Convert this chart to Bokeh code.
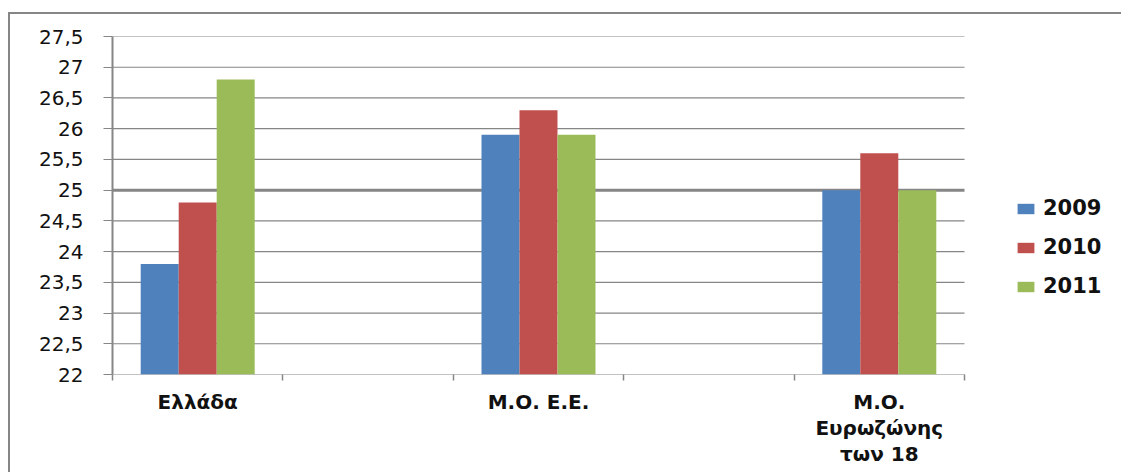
from bokeh.plotting import figure
from bokeh.models import FixedTicker, Legend, LegendItem, ColumnDataSource
from bokeh.embed import file_html
from bokeh.resources import INLINE

# Categories (with empty spacer slots between the groups)
categories = ["Ελλάδα", "", "Μ.Ο. Ε.Ε.", "", "Μ.Ο.\nΕυρωζώνης\nτων 18"]
years = ["2009", "2010", "2011"]
values_2009 = [23.8, None, 25.9, None, 25.0]
values_2010 = [24.8, None, 26.3, None, 25.6]
values_2011 = [26.8, None, 25.9, None, 25.0]
y_ticks = [22, 22.5, 23, 23.5, 24, 24.5, 25, 25.5, 26, 26.5, 27, 27.5]

colors = ["#4F81BD", "#C0504D", "#9BBB59"]
grid_gray = "#868686"
font = "DejaVu Sans"

# the frame runs to the right edge so the legend can sit beside the bars;
# the category slots occupy the first 852 px of its 1011 px
n = len(categories)
plot_px, frame_px = 852, 1011
x_end = n * frame_px / plot_px

p = figure(width=1113, height=460, output_backend="svg", toolbar_location=None,
           x_range=(0, x_end), y_range=(22, 27.5),
           min_border_left=102, min_border_right=0,
           min_border_top=22, min_border_bottom=100)
p.outline_line_color = None
p.background_fill_color = "white"
p.border_fill_color = "white"
# outer chart box (its right and bottom edges fall outside the page)
p.styles = {"margin-left": "8px", "margin-top": "12px",
            "border-left": f"2px solid {grid_gray}",
            "border-top": f"2px solid {grid_gray}"}

# horizontal gridlines across the category slots only; the 25 line is heavier
grid_widths = [3 if t == 25 else 1.2 for t in y_ticks]
p.segment(x0=0, x1=n, y0=y_ticks, y1=y_ticks, line_color=grid_gray,
          line_width=grid_widths, level="underlay")

bar_w = 0.223
series = [values_2009, values_2010, values_2011]
renderers = []
for k, (vals, col) in enumerate(zip(series, colors)):
    xs, tops = [], []
    for i, v in enumerate(vals):
        if v is not None:
            xs.append(i + 0.5 + (k - 1) * bar_w)
            tops.append(v)
    src = ColumnDataSource(dict(x=xs, top=tops))
    r = p.vbar(x="x", top="top", bottom=22, width=bar_w, source=src,
               fill_color=col, line_color=None)
    renderers.append(r)

# y axis
p.yaxis.ticker = FixedTicker(ticks=y_ticks)
p.yaxis.major_label_overrides = {t: (f"{t:g}").replace(".", ",") for t in y_ticks}
p.yaxis.major_label_text_font = font
p.yaxis.major_label_text_font_size = "20px"
p.yaxis.major_label_text_color = "#111111"
p.yaxis.major_tick_in = 0
p.yaxis.major_tick_out = 9
p.yaxis.major_tick_line_color = grid_gray
p.yaxis.major_label_standoff = 20
p.yaxis.axis_line_color = grid_gray
p.yaxis.axis_line_width = 2
p.yaxis.minor_tick_line_color = None

p.ygrid.grid_line_color = None
p.xgrid.grid_line_color = None

# x axis: labels at group centres, small ticks at slot boundaries
centers = [i + 0.5 for i in range(n)]
p.xaxis.ticker = FixedTicker(ticks=centers, minor_ticks=list(range(n + 1)))
p.xaxis.major_label_overrides = {c: lab for c, lab in zip(centers, categories)}
p.xaxis.major_label_text_font = font
p.xaxis.major_label_text_font_style = "bold"
p.xaxis.major_label_text_font_size = "20px"
p.xaxis.major_label_text_color = "#111111"
p.xaxis.major_label_text_line_height = 1.1
p.xaxis.major_label_standoff = 9
p.xaxis.major_tick_line_color = None
p.xaxis.minor_tick_in = 0
p.xaxis.minor_tick_out = 6
p.xaxis.minor_tick_line_color = grid_gray
p.xaxis.minor_tick_line_width = 1.5
p.xaxis.axis_line_color = None

legend = Legend(items=[LegendItem(label=y, renderers=[r]) for y, r in zip(years, renderers)],
                location=(903, 75), orientation="vertical",
                glyph_width=21, glyph_height=13, label_standoff=7,
                label_height=26, spacing=13, padding=0, margin=0,
                border_line_color=None, background_fill_alpha=0,
                label_text_font=font, label_text_font_style="bold",
                label_text_font_size="21px", label_text_color="#111111")
p.add_layout(legend, "center")

open("out.html", "w").write(file_html(p, INLINE))
